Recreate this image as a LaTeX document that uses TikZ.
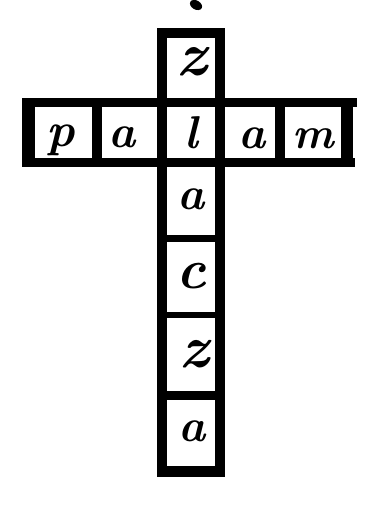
\documentclass[tikz,border=0pt]{standalone}
\begin{document}
\begin{tikzpicture}[x=1pt,y=-1pt,
  ink/.style={line width=#1, line cap=butt, black},
  ink/.default=9pt,
  letter/.style={inner sep=0pt, font=\fontsize{#1}{#1}\selectfont\bfseries\itshape},
  letter/.default=46pt]
\useasboundingbox (0,0) rectangle (367,506);
% ink blot on top
\fill[black, rotate around={-30:(196,5)}] (196,5) ellipse (6.5 and 4.5);
% horizontal bar
\draw[ink=9pt] (22,102.5) -- (357,102.5);
\draw[ink=9pt] (22,162) -- (355,162);
\draw[ink=13pt] (28.5,98) -- (28.5,166.5);
\draw[ink=12pt] (347,98) -- (347,166.5);
\draw[ink=10pt] (97,102) -- (97,162);
\draw[ink=10pt] (280,102) -- (280,162);
% vertical bar
\draw[ink=10pt] (162,28) -- (162,477);
\draw[ink=10pt] (220,28) -- (220,477);
\draw[ink=10pt] (157,33) -- (225,33);
\draw[ink=7pt] (162,238.5) -- (220,238.5);
\draw[ink=6pt] (162,314.5) -- (220,314.5);
\draw[ink=9pt] (162,395) -- (220,395);
\draw[ink=11pt] (157,471.5) -- (225,471.5);
% letters of the row
\node[letter=48pt] (r1) at (61,140) {p};
\node[letter] (r2) at (122,137) {a};
\node[letter] (r3) at (191,133) {l};
\node[letter] (r4) at (252,138) {a};
\node[letter=44pt] (r5) at (313,139) {m};
% letters of the column
\node[letter=62pt] (c0) at (192,62) {z};
\node[letter] (c2) at (191,199) {a};
\node[letter=56pt] (c3) at (191,276) {c};
\node[letter=60pt] (c4) at (194,354) {z};
\node[letter] (c5) at (192,431) {a};
\end{tikzpicture}
\end{document}
